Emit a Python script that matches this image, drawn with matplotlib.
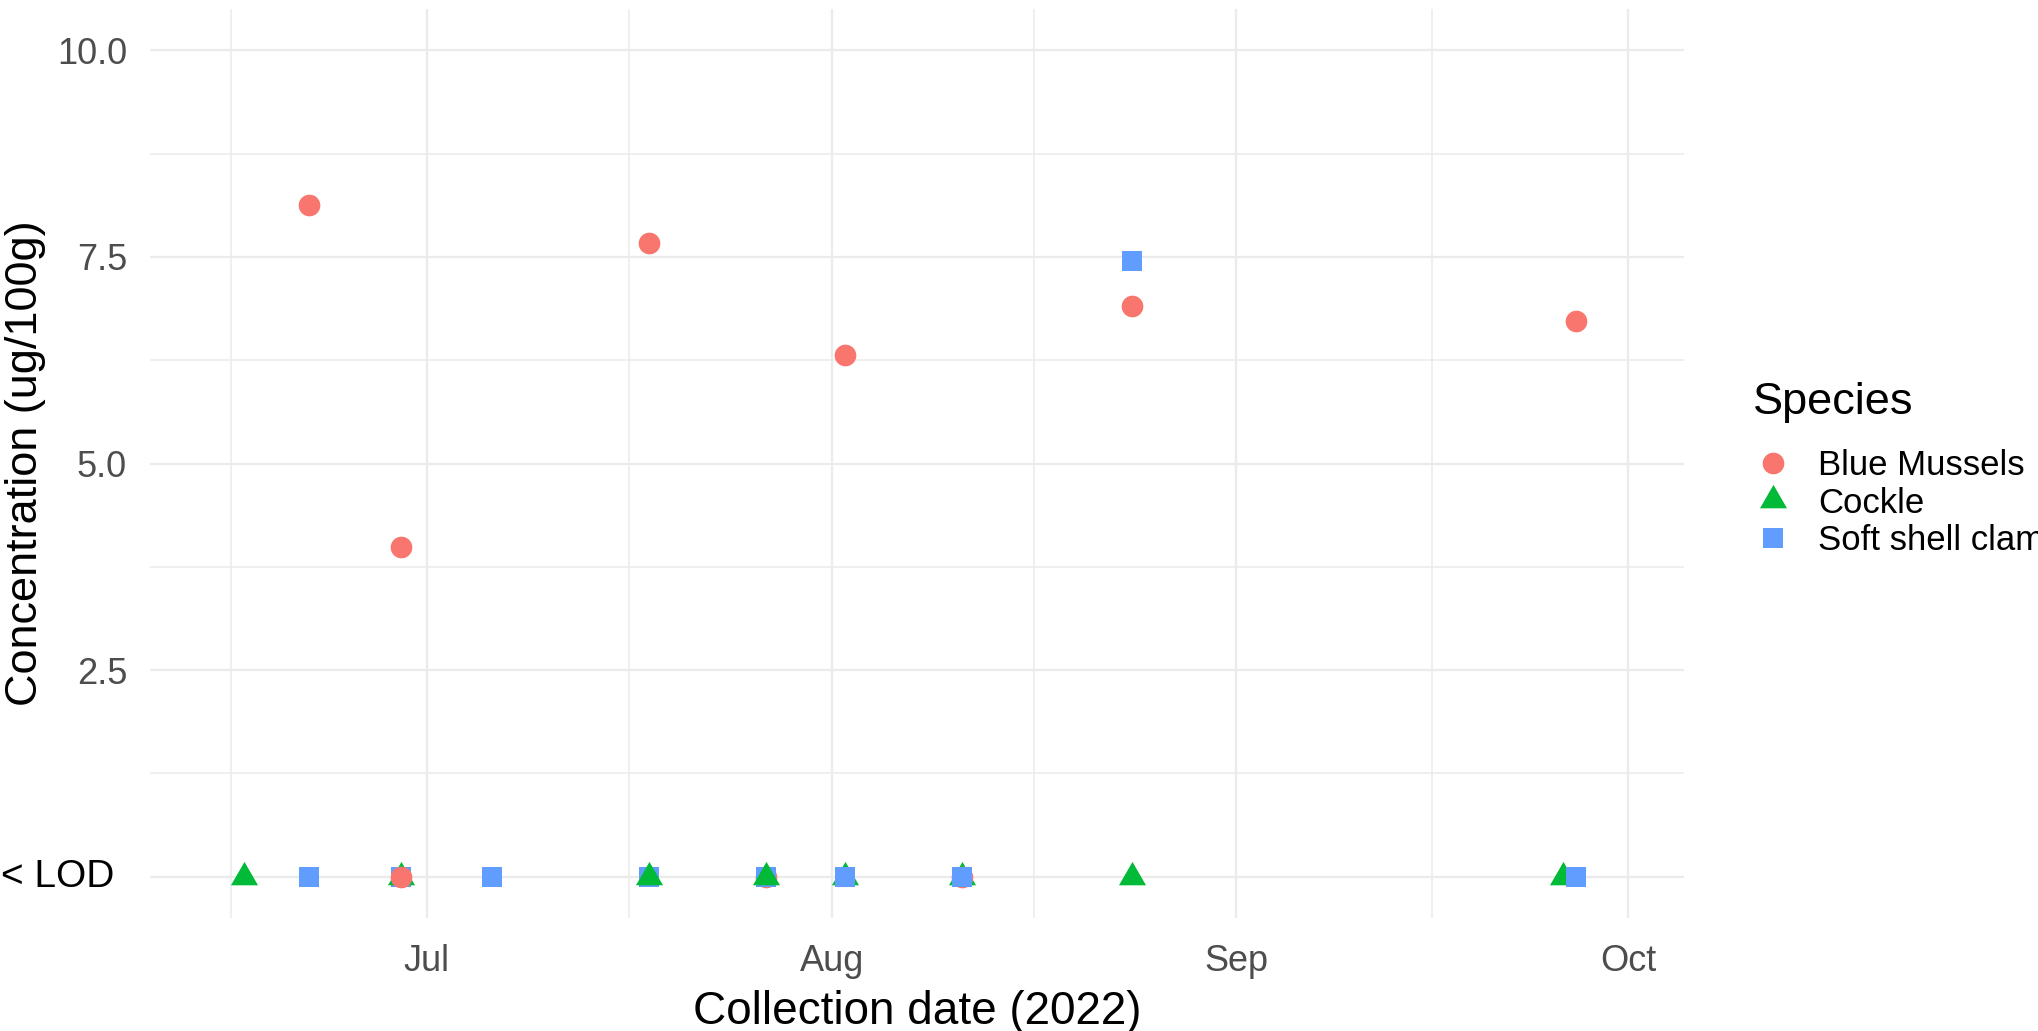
import matplotlib
matplotlib.use('Agg')
import matplotlib.pyplot as plt
from matplotlib.lines import Line2D
from matplotlib.path import Path
from datetime import datetime

plt.rcParams['font.family'] = ['Liberation Sans', 'DejaVu Sans']

# ---- data (row order = drawing order) ----
collection_dates = [
    '2022-06-17', '2022-06-22', '2022-06-22', '2022-06-29', '2022-06-29',
    '2022-06-29', '2022-06-29', '2022-07-06', '2022-07-18', '2022-07-18',
    '2022-07-18', '2022-07-27', '2022-07-27', '2022-07-27', '2022-08-02',
    '2022-08-02', '2022-08-02', '2022-08-11', '2022-08-11', '2022-08-11',
    '2022-08-24', '2022-08-24', '2022-08-24', '2022-09-26', '2022-09-27',
    '2022-09-27',
]
species = [
    'Cockle', 'Soft shell clam', 'Blue Mussels', 'Soft shell clam', 'Cockle',
    'Blue Mussels', 'Blue Mussels', 'Soft shell clam', 'Blue Mussels', 'Soft shell clam',
    'Cockle', 'Blue Mussels', 'Soft shell clam', 'Cockle', 'Blue Mussels',
    'Cockle', 'Soft shell clam', 'Cockle', 'Blue Mussels', 'Soft shell clam',
    'Cockle', 'Blue Mussels', 'Soft shell clam', 'Cockle', 'Blue Mussels',
    'Soft shell clam',
]
# 0 = below limit of detection (< LOD)
concentration = [
    0, 0, 8.13, 0, 0,
    0, 3.99, 0, 7.67, 0,
    0, 0, 0, 0, 6.31,
    0, 0, 0, 0, 0,
    0, 6.90, 7.45, 0, 6.72,
    0,
]

species_order = ['Blue Mussels', 'Cockle', 'Soft shell clam']
month_breaks = ['2022-07-01', '2022-08-01', '2022-09-01', '2022-10-01']
month_labels = ['Jul', 'Aug', 'Sep', 'Oct']
y_breaks = [0, 2.5, 5.0, 7.5, 10.0]
y_labels = ['', '2.5', '5.0', '7.5', '10.0']
lod_label = '< LOD'

# ---- styles ----
colors = {'Blue Mussels': '#F8766D', 'Cockle': '#00BA38', 'Soft shell clam': '#619CFF'}
tri = Path([(-1, -0.57735), (1, -0.57735), (0, 1.1547), (-1, -0.57735)],
           [Path.MOVETO, Path.LINETO, Path.LINETO, Path.CLOSEPOLY])
markers = {'Blue Mussels': 'o', 'Cockle': tri, 'Soft shell clam': 's'}
msizes = {'Blue Mussels': 15.6, 'Cockle': 22.5, 'Soft shell clam': 15.0}

W, H = 2038, 1031
fig = plt.figure(figsize=(W / 100, H / 100), dpi=100)
fig.patch.set_facecolor('white')
ax = fig.add_axes([150 / W, 113 / H, 1534 / W, 909 / H])
ax.set_facecolor('white')

to_dt = lambda s: datetime.strptime(s, '%Y-%m-%d')

for d, sp, v in zip(collection_dates, species, concentration):
    ax.plot([to_dt(d)], [v], ls='none', marker=markers[sp], ms=msizes[sp],
            color=colors[sp], mew=0, zorder=3, clip_on=False)

major_x = [to_dt(s) for s in month_breaks]
ax.set_xticks(major_x)
ax.set_xticklabels(month_labels)
month_starts = [datetime(2022, m, 1) for m in range(6, 11)]
minor_x = [a + (b - a) / 2 for a, b in zip(month_starts[:-1], month_starts[1:])]
ax.set_xticks(minor_x, minor=True)

ax.set_yticks(y_breaks)
ax.set_yticklabels(y_labels)
ax.set_yticks([(a + b) / 2 for a, b in zip(y_breaks[:-1], y_breaks[1:])], minor=True)

# axes limits (ggplot expanded range) -- set after ticks
ax.set_xlim(datetime(2022, 6, 9, 19), datetime(2022, 10, 5, 7))
ax.set_ylim(-0.5, 10.5)

ax.grid(which='major', color='#EBEBEB', lw=1.6, zorder=0)
ax.grid(which='minor', color='#EBEBEB', lw=1.1, zorder=0)
ax.set_axisbelow(True)
for s in ax.spines.values():
    s.set_visible(False)
ax.tick_params(which='both', length=0)
ax.tick_params(axis='x', labelsize=26, labelcolor='#4D4D4D', pad=18.5)
ax.tick_params(axis='y', labelsize=26, labelcolor='#4D4D4D', pad=16.5)

ax.text(-0.0235, 0, lod_label, transform=ax.get_yaxis_transform(),
        ha='right', va='center', fontsize=28, color='black')

ax.set_xlabel('Collection date (2022)', fontsize=33, color='black')
ax.xaxis.set_label_coords(0.5, -0.0792)
ax.set_ylabel('Concentration (ug/100g)', fontsize=32.5, color='black')
ax.yaxis.set_label_coords(-0.0678, 0.5)

handles = [Line2D([], [], ls='none', marker=markers[s], ms=msizes[s],
                  color=colors[s], mew=0) for s in species_order]
leg = ax.legend(handles, species_order, title='Species', loc='upper left',
                bbox_to_anchor=(1753 / W, 1 - 382 / H), bbox_transform=fig.transFigure,
                frameon=False, fontsize=25, title_fontsize=32.5, alignment='left',
                borderpad=0, borderaxespad=0, handlelength=1.15, handletextpad=0.72,
                labelspacing=0.14)
leg._legend_box.sep = 18.5

fig.savefig('out.png', dpi=100, facecolor='white')
